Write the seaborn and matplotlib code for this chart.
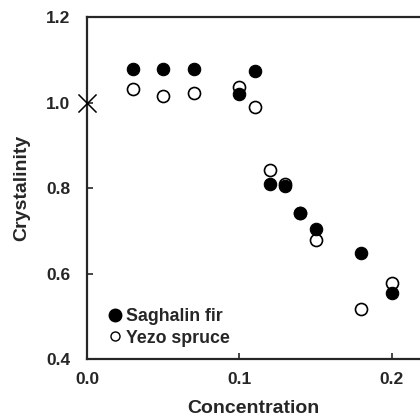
import matplotlib
matplotlib.use("Agg")
import matplotlib.pyplot as plt
import seaborn as sns
import pandas as pd
from matplotlib.lines import Line2D

# values
fir_conc = [0.03, 0.05, 0.07, 0.10, 0.11, 0.12, 0.13, 0.14, 0.15, 0.18, 0.20]
fir_cryst = [1.078, 1.078, 1.078, 1.020, 1.074, 0.809, 0.805, 0.742, 0.704, 0.648, 0.554]

spruce_conc = [0.03, 0.05, 0.07, 0.10, 0.11, 0.12, 0.13, 0.14, 0.15, 0.18, 0.20]
spruce_cryst = [1.032, 1.015, 1.022, 1.036, 0.989, 0.842, 0.810, 0.742, 0.678, 0.517, 0.578]

control_conc = [0.0]
control_cryst = [1.0]

sns.set_style("ticks")
plt.rcParams["font.family"] = ["Liberation Sans", "DejaVu Sans"]
plt.rcParams["font.weight"] = "bold"

fir = pd.DataFrame({"Concentration": fir_conc, "Crystalinity": fir_cryst})
spruce = pd.DataFrame({"Concentration": spruce_conc, "Crystalinity": spruce_cryst})
control = pd.DataFrame({"Concentration": control_conc, "Crystalinity": control_cryst})

fig = plt.figure(figsize=(4.2, 4.19), dpi=100)
ax = fig.add_axes([0.207, 0.143, 0.793, 0.816])

sns.scatterplot(data=spruce, x="Concentration", y="Crystalinity", ax=ax,
                marker="o", s=75, color="white", edgecolor="black", linewidth=1.2, zorder=3)
sns.scatterplot(data=fir, x="Concentration", y="Crystalinity", ax=ax,
                marker="o", s=80, color="black", edgecolor="black", linewidth=0.8, zorder=4)
sns.scatterplot(data=control, x="Concentration", y="Crystalinity", ax=ax,
                marker="x", s=170, color="black", linewidth=1.1, zorder=5, clip_on=False)

ax.set_xlim(0, 0.2185)
ax.set_ylim(0.4, 1.2)
ax.set_xticks([0.0, 0.1, 0.2])
ax.set_xticklabels(["0.0", "0.1", "0.2"])
ax.set_yticks([0.4, 0.6, 0.8, 1.0, 1.2])
ax.set_yticklabels(["0.4", "0.6", "0.8", "1.0", "1.2"])
ax.tick_params(direction="in", length=4, width=1.2, labelsize=12.5)
ax.tick_params(axis="y", pad=12)
ax.tick_params(axis="x", pad=9)

for side in ["left", "bottom", "top"]:
    ax.spines[side].set_linewidth(1.6)
ax.spines["right"].set_visible(False)

ax.set_xlabel("Concentration", fontsize=14, fontweight="bold", labelpad=10)
ax.set_ylabel("Crystalinity", fontsize=14, fontweight="bold", labelpad=11)

handles = [
    Line2D([], [], marker="o", linestyle="none", markersize=9,
           markerfacecolor="black", markeredgecolor="black", label="Saghalin fir"),
    Line2D([], [], marker="o", linestyle="none", markersize=6.5,
           markerfacecolor="white", markeredgecolor="black", markeredgewidth=1.0, label="Yezo spruce"),
]
ax.legend(handles=handles, loc="lower left", frameon=False,
          handletextpad=0.0, handlelength=1.3, labelspacing=0.25, borderaxespad=0.3,
          bbox_to_anchor=(0.012, 0.0), prop={"weight": "bold", "size": 12.8})

fig.savefig("out.png", dpi=100)
